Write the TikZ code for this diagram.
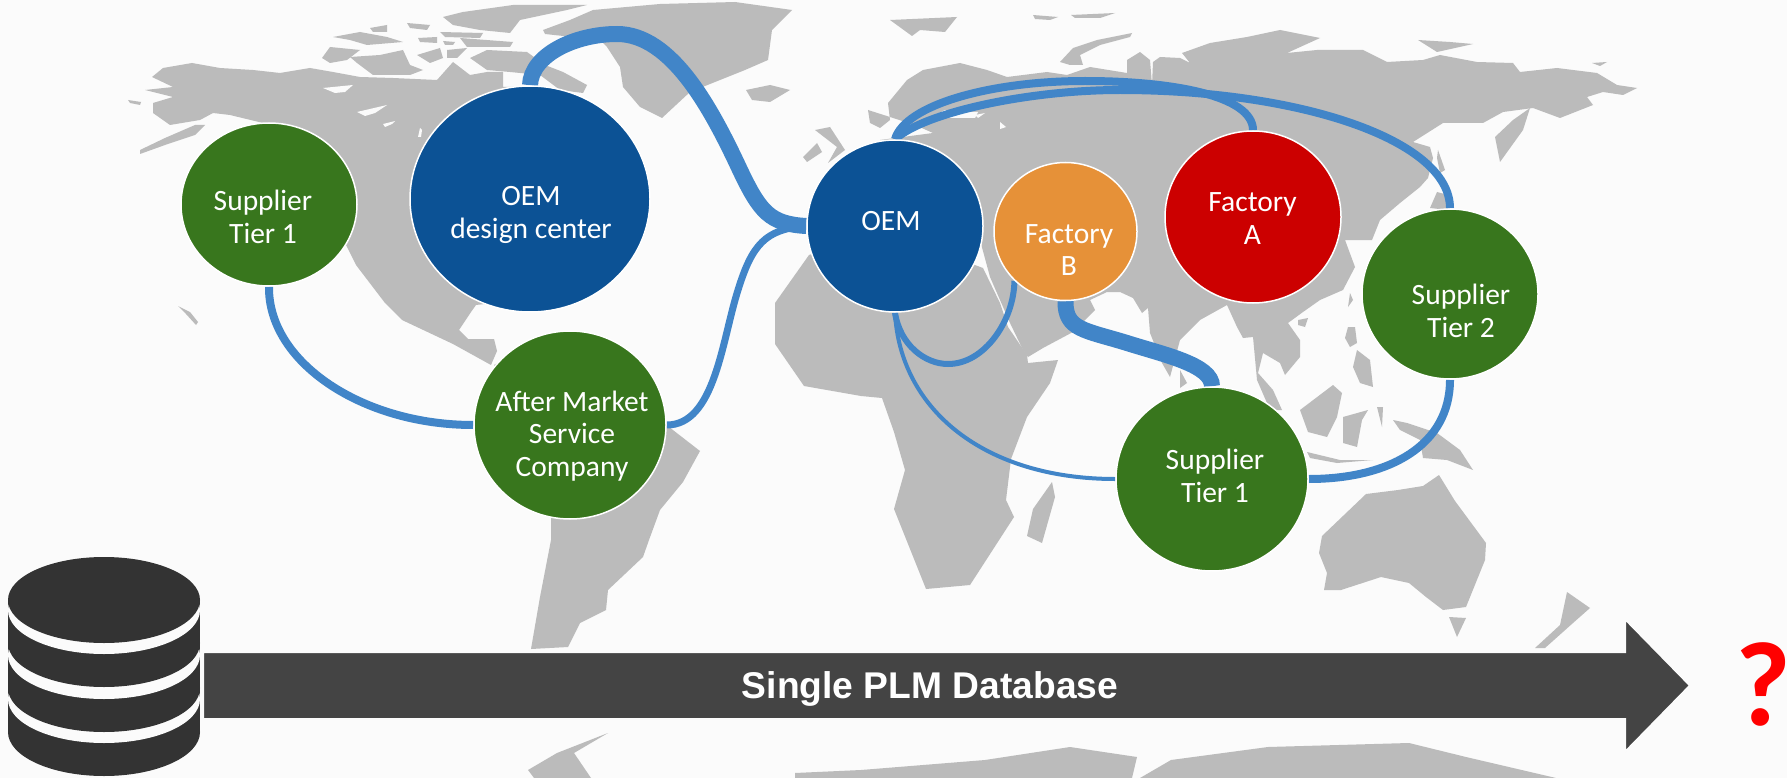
\documentclass[tikz,border=0pt]{standalone}
\usepackage{fontspec}
\setmainfont{Carlito}
\newfontfamily\barfont{Liberation Sans}
\usepackage{tikz}
\usetikzlibrary{shapes.geometric}

\definecolor{paper}{HTML}{FBFBFB}
\definecolor{land}{HTML}{BBBBBB}
\definecolor{linkblue}{HTML}{4185C8}
\definecolor{oemblue}{HTML}{0C5295}
\definecolor{supgreen}{HTML}{38761D}
\definecolor{factorange}{HTML}{E69138}
\definecolor{factred}{HTML}{CC0000}
\definecolor{drumgrey}{HTML}{333333}
\definecolor{bargrey}{HTML}{444444}

\pgfdeclarelayer{map}
\pgfdeclarelayer{links}
\pgfsetlayers{map,links,main}

\tikzset{
  site/.style={ellipse, draw=white, line width=1.5pt, inner sep=0pt},
  sitetext/.style={text=white, align=center, font=\fontsize{29.5}{32.5}\selectfont},
  link/.style={draw=linkblue, line cap=butt},
}

\begin{document}
\begin{tikzpicture}[x=1pt,y=-1pt]
  \useasboundingbox (0,0) rectangle (1787,778);

  \begin{pgfonlayer}{map}
  \fill [paper] (0,0) rectangle (1787,778);
  % north america
  \fill [land] (145,90) -- (173,87) -- (152,77) -- (163,68) -- (192,63) -- (220,68) -- (253,70) -- (280,73) -- (310,68)
    -- (333,72) -- (360,77) -- (393,78) -- (437,80) -- (453,62) -- (470,75) -- (487,72) -- (503,72) -- (503,87)
    -- (540,86) -- (560,115) -- (560,200) -- (520,300) -- (476,305) -- (471,312) -- (459,330)
    -- (468,339) -- (494,339) -- (497,351) -- (491,365) -- (453,344) -- (402,320) -- (385,303) -- (356,265)
    -- (344,241) -- (300,160) -- (263,123) -- (230,115) -- (213,113) -- (200,120) -- (170,125) -- (153,113)
    -- (153,103) -- (173,97) -- cycle;
  \fill [land] (140,154) -- (165,145) -- (195,135) -- (205,125) -- (195,125) -- (165,138) -- (140,150) -- cycle;
  \fill [land] (128,100) -- (141,102) -- (140,105) -- (130,103) -- cycle;
  \fill [land] (178,306) -- (190,312) -- (198,322) -- (196,325) -- (186,314) -- cycle;
  \fill [paper] (323,88) -- (353,85) -- (345,92) -- (335,93) -- cycle;
  \fill [paper] (357,112) -- (387,105) -- (375,113) -- (365,116) -- cycle;
  \fill [paper] (383,124) -- (395,121) -- (392,124) -- (385,127) -- cycle;
  \fill [paper] (418,137) -- (420,128) -- (422,130) -- (421,137) -- cycle;
  \fill [land] (322,58) -- (330,47) -- (360,50) -- (347,60) -- (330,63) -- cycle;
  \fill [land] (350,57) -- (380,55) -- (403,50) -- (410,65) -- (423,70) -- (410,75) -- (373,75) -- (357,63) -- cycle;
  \fill [land] (333,37) -- (360,32) -- (387,37) -- (403,42) -- (367,45) -- (350,40) -- cycle;
  \fill [land] (417,55) -- (440,48) -- (443,58) -- (430,63) -- cycle;
  \fill [land] (447,50) -- (467,48) -- (457,58) -- (447,58) -- cycle;
  \fill [land] (470,58) -- (487,50) -- (527,52) -- (545,65) -- (563,72) -- (587,85) -- (583,93) -- (560,90) -- (540,75) -- (510,72) -- (487,70) -- cycle;
  \fill [land] (460,38) -- (513,42) -- (510,47) -- (467,47) -- cycle;
  \fill [land] (407,23) -- (430,25) -- (427,30) -- (410,28) -- cycle;
  \fill [land] (418,38) -- (437,37) -- (437,43) -- (420,42) -- cycle;
  \fill [land] (443,41) -- (455,42) -- (453,45) -- (445,45) -- cycle;
  \fill [land] (370,28) -- (387,25) -- (387,32) -- (373,32) -- cycle;
  \fill [land] (443,17) -- (463,12) -- (513,5) -- (587,5) -- (567,10) -- (520,20) -- (510,33) -- (480,30) -- (453,25) -- cycle;
  \fill [land] (440,32) -- (483,33) -- (480,38) -- (445,37) -- cycle;
  % greenland
  \fill [land] (543,30) -- (570,20) -- (593,10) -- (660,4) -- (735,2) -- (792,10) -- (772,30) -- (768,60) -- (745,70)
    -- (690,92) -- (662,118) -- (640,107) -- (623,87) -- (620,67) -- (607,47) -- (600,40) -- (545,34) -- cycle;
  \fill [land] (746,90) -- (770,85) -- (790,90) -- (770,102) -- (752,100) -- cycle;
  % south america
  \fill [land] (494,365) -- (520,350) -- (560,350) -- (660,420) -- (700,451) -- (683,482) -- (660,510) -- (649,540)
    -- (643,557) -- (608,590) -- (606,610) -- (580,623) -- (568,647) -- (531,649) -- (540,597) -- (551,540) -- (551,510) -- cycle;
  % africa
  \fill [land] (809,255) -- (775,303) -- (775,344) -- (804,386) -- (861,396) -- (882,398) -- (894,432) -- (905,470) -- (894,509)
    -- (926,589) -- (970,585) -- (1014,517) -- (1006,500) -- (1011,459) -- (1027,417) -- (1050,383) -- (1058,360) -- (1028,363)
    -- (1027,355) -- (1008,327) -- (1000,303) -- (983,268) -- (880,230) -- cycle;
  \fill [land] (1052,482) -- (1055,497) -- (1042,543) -- (1027,536) -- (1033,509) -- cycle;
  % eurasia
  \fill [land] (868,110) -- (870,123) -- (880,128) -- (890,120) -- (888,103) -- (907,80) -- (923,70) -- (960,63) -- (987,70) -- (1007,77)
    -- (1047,72) -- (1067,75) -- (1090,67) -- (1127,73) -- (1127,60) -- (1140,52) -- (1150,60) -- (1152,85) -- (1153,62) -- (1160,57)
    -- (1180,58) -- (1190,63) -- (1182,53) -- (1210,43) -- (1247,37) -- (1280,30) -- (1320,38) -- (1287,53) -- (1317,50) -- (1363,50)
    -- (1387,62) -- (1423,60) -- (1440,55) -- (1477,62) -- (1513,63) -- (1520,72) -- (1557,68) -- (1597,73) -- (1617,85) -- (1637,88)
    -- (1623,95) -- (1603,92) -- (1587,97) -- (1593,105) -- (1560,118) -- (1533,108) -- (1503,112) -- (1483,123) -- (1443,123)
    -- (1413,142) -- (1430,147) -- (1433,158) -- (1428,178) -- (1420,187) -- (1400,203) -- (1380,220) -- (1372,240) -- (1345,240)
    -- (1355,267) -- (1343,290) -- (1320,300) -- (1303,312) -- (1288,323) -- (1300,340) -- (1300,357) -- (1285,375) -- (1280,363)
    -- (1263,353) -- (1258,373) -- (1273,390) -- (1282,410) -- (1270,410) -- (1257,380) -- (1253,337) -- (1243,338) -- (1237,327)
    -- (1227,305) -- (1200,320) -- (1180,340) -- (1170,377) -- (1162,363) -- (1150,333) -- (1148,308) -- (1142,313) -- (1133,298)
    -- (1120,292) -- (1107,292) -- (1090,300) -- (1095,310) -- (1073,332) -- (1043,348) -- (1028,357) -- (1023,350) -- (1010,323)
    -- (990,277) -- (980,240) -- (880,140) -- (933,133) -- (915,125) -- cycle;
  \fill [paper] (925,125) -- (945,118) -- (975,118) -- (978,112) -- (960,112) -- (945,110) -- (930,118) -- cycle;
  \fill [paper] (975,115) -- (985,113) -- (978,118) -- cycle;
  \fill [paper] (1000,122) -- (1006,127) -- (1000,129) -- cycle;
  \fill [land] (1060,62) -- (1073,48) -- (1097,40) -- (1132,33) -- (1130,37) -- (1100,45) -- (1080,55) -- (1083,65) -- (1070,65) -- cycle;
  % islands
  \fill [land] (890,20) -- (957,17) -- (945,32) -- (920,30) -- (912,36) -- cycle;
  \fill [land] (1033,15) -- (1058,17) -- (1050,20) -- (1035,19) -- cycle;
  \fill [land] (1071,15) -- (1115,13) -- (1100,18) -- (1075,18) -- cycle;
  \fill [land] (1418,40) -- (1450,42) -- (1473,44) -- (1437,52) -- cycle;
  \fill [land] (1592,63) -- (1607,62) -- (1600,66) -- cycle;
  \fill [land] (815,130) -- (830,127) -- (845,150) -- (828,163) -- (837,147) -- cycle;
  \fill [land] (803,157) -- (817,143) -- (822,152) -- (807,162) -- cycle;
  \fill [land] (1438,150) -- (1445,170) -- (1440,173) -- (1437,158) -- cycle;
  \fill [land] (1495,137) -- (1513,120) -- (1530,108) -- (1523,130) -- (1500,162) -- cycle;
  \fill [land] (1430,208) -- (1437,192) -- (1448,195) -- (1448,210) -- cycle;
  \fill [land] (1350,293) -- (1353,300) -- (1348,307) -- cycle;
  \fill [land] (1298,320) -- (1308,318) -- (1305,327) -- (1298,325) -- cycle;
  \fill [land] (1348,327) -- (1355,327) -- (1357,343) -- (1350,347) -- (1345,338) -- cycle;
  \fill [land] (1357,350) -- (1370,360) -- (1373,387) -- (1360,383) -- (1353,367) -- cycle;
  \fill [land] (1300,410) -- (1333,385) -- (1342,393) -- (1337,417) -- (1327,437) -- (1308,432) -- cycle;
  \fill [land] (1343,417) -- (1368,410) -- (1362,420) -- (1357,447) -- (1343,443) -- cycle;
  \fill [land] (1307,452) -- (1340,460) -- (1373,460) -- (1337,463) -- (1310,458) -- cycle;
  \fill [land] (1393,420) -- (1407,423) -- (1437,433) -- (1460,450) -- (1473,470) -- (1447,460) -- (1423,458) -- (1420,440) -- (1400,430) -- cycle;
  \fill [land] (1377,407) -- (1383,407) -- (1382,427) -- cycle;
  \fill [land] (1180,370) -- (1187,383) -- (1180,388) -- cycle;
  % australia
  \fill [land] (1322,536) -- (1366,494) -- (1398,490) -- (1423,486) -- (1439,475) -- (1455,501) -- (1486,543) -- (1485,560)
    -- (1466,607) -- (1443,610) -- (1426,597) -- (1409,583) -- (1381,577) -- (1341,590) -- (1324,590) -- (1327,573) -- (1319,553) -- cycle;
  \fill [land] (1449,617) -- (1466,618) -- (1457,637) -- cycle;
  \fill [land] (1567,592) -- (1590,608) -- (1573,623) -- (1545,648) -- (1535,648) -- (1560,625) -- cycle;
  % antarctica
  \fill [land] (608,733) -- (574,753) -- (591,778) -- (534,778) -- (528,770) -- (557,753) -- cycle;
  \fill [land] (795,778) -- (795,773) -- (861,770) -- (985,760) -- (1070,747) -- (1137,757) -- (1132,778) -- cycle;
  \fill [land] (1140,778) -- (1171,760) -- (1268,747) -- (1409,743) -- (1466,757) -- (1556,778) -- cycle;
  \end{pgfonlayer}

  \node [site, fill=supgreen, minimum width=176pt, minimum height=163pt] (supplierW) at (269,204.5) {};
  \node [site, fill=oemblue, minimum width=240pt, minimum height=226pt] (design) at (530,199) {};
  \node [site, fill=supgreen, minimum width=192pt, minimum height=188pt] (service) at (570,425) {};
  \node [site, fill=oemblue, minimum width=176pt, minimum height=172pt] (oem) at (895,226) {};
  \node [site, fill=factorange, minimum width=143pt, minimum height=138pt] (factoryB) at (1065.5,231.5) {};
  \node [site, fill=factred, minimum width=176pt, minimum height=172pt] (factoryA) at (1253,217) {};
  \node [site, fill=supgreen, minimum width=176pt, minimum height=170pt] (supplierN) at (1450,294) {};
  \node [site, fill=supgreen, minimum width=192pt, minimum height=184pt] (supplierS) at (1212,479) {};

  \begin{pgfonlayer}{links}
  \draw [link, line width=16pt] (design.north) .. controls (531,55) and (575,34) .. (617,34)
    .. controls (672,34) and (712,110) .. (740,170) .. controls (760,212) and (770,224) .. (oem.west);
  \draw [link, line width=7pt] (service.east) .. controls (715,425) and (722,340) .. (738,290)
    .. controls (752,245) and (765,229) .. (oem.west);
  \draw [link, line width=8pt] (supplierW.south) .. controls (268,362) and (362,425) .. (service.west);
  \draw [link, line width=8pt] (oem.north) .. controls (905,105) and (990,81) .. (1085,81)
    .. controls (1170,81) and (1253,95) .. (factoryA.north);
  \draw [link, line width=8pt] (oem.north) .. controls (925,112) and (1030,90) .. (1120,90)
    .. controls (1300,90) and (1450,140) .. (supplierN.north);
  \draw [link, line width=6pt] (oem.south) .. controls (900,345) and (925,364) .. (948,364)
    .. controls (985,364) and (1014,320) .. (factoryB.south west);
  \draw [link, line width=4pt] (oem.south) .. controls (900,410) and (985,479) .. (supplierS.west);
  \draw [link, line width=16pt] (factoryB.south) .. controls (1065,330) and (1085,330) .. (1127,343)
    .. controls (1165,355) and (1212,365) .. (supplierS.north);
  \draw [link, line width=8pt] (supplierS.east) .. controls (1390,479) and (1450,445) .. (supplierN.south);
  \end{pgfonlayer}

  \node [sitetext] (supplierWtext) at (263,217) {Supplier\\Tier 1};
  \node [sitetext] (designtext) at (531,215) {OEM\\design center};
  \node [sitetext] (servicetext) at (572,436) {After Market\\Service\\Company};
  \node [sitetext] (oemtext) at (891,221) {OEM};
  \node [sitetext] (factoryBtext) at (1069,250) {Factory\\B};
  \node [sitetext] (factoryAtext) at (1252.5,218.5) {Factory\\A};
  \node [sitetext] (supplierNtext) at (1461,311) {Supplier\\Tier 2};
  \node [sitetext] (supplierStext) at (1215,476) {Supplier\\Tier 1};

  \fill [drumgrey] (8,600) rectangle (200,732);
  \fill [drumgrey] (104,732) ellipse [x radius=96, y radius=44];
  \fill [paper] (104,699) ellipse [x radius=96, y radius=44];
  \fill [drumgrey] (104,688) ellipse [x radius=96, y radius=44];
  \fill [paper] (104,655) ellipse [x radius=96, y radius=44];
  \fill [drumgrey] (104,643) ellipse [x radius=96, y radius=44];
  \fill [paper] (104,610) ellipse [x radius=96, y radius=44];
  \fill [drumgrey] (104,600) ellipse [x radius=96, y radius=43];

  \draw [fill=bargrey, draw=paper, line width=2pt] (203,652) -- (1625,652) -- (1625,619) -- (1690,685.5) -- (1625,752) -- (1625,719) -- (203,719) -- cycle;
  \node [text=white, font=\fontsize{37.2}{37.2}\selectfont\barfont\bfseries] (dbtext) at (930,689) {Single PLM Database};
  \node [text=red, font=\fontsize{120}{120}\selectfont\bfseries] (querymark) at (1763,684) {?};
\end{tikzpicture}
\end{document}
